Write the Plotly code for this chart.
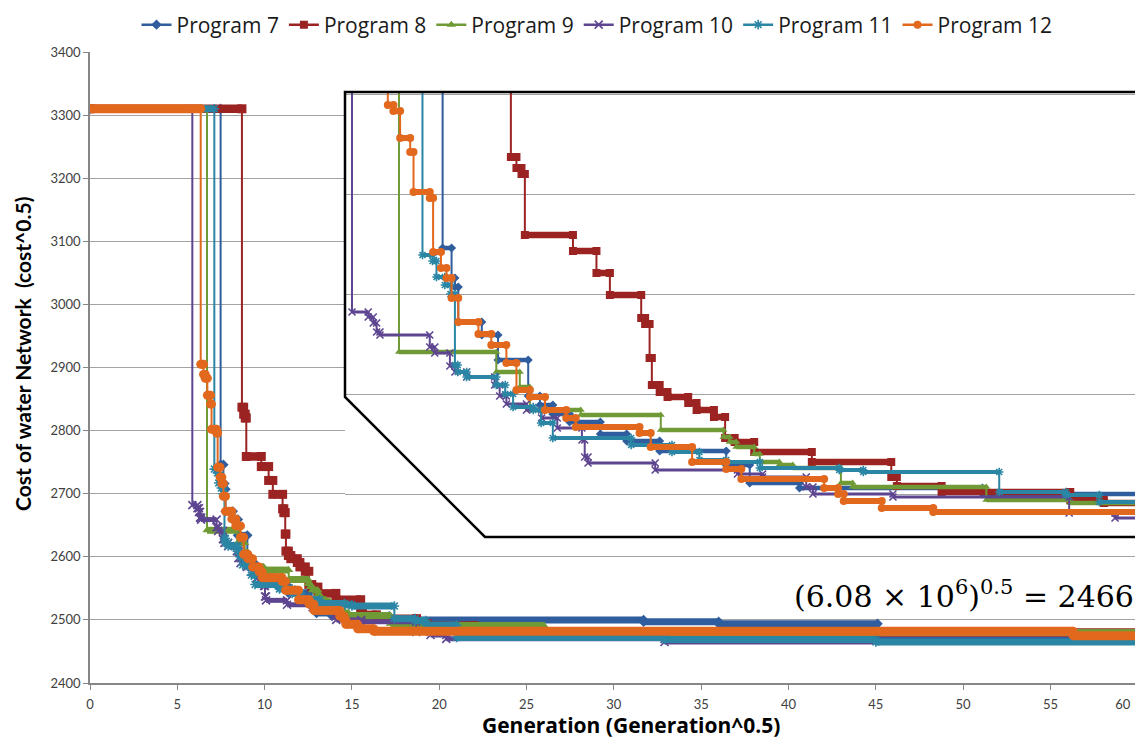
import plotly.graph_objects as go

# ---------------- data ----------------
NAMES = ["Program 7", "Program 8", "Program 9", "Program 10", "Program 11", "Program 12"]

# step start points (x = generation^0.5, y = cost^0.5)
X7 = [0, 7.48, 7.64, 7.70, 7.76, 8.18, 8.47, 9.01, 9.22, 9.45, 9.75, 10.30, 10.77, 11.36,
      12.55, 12.97, 13.86, 17.13, 31.7, 36.0, 45.1]
Y7 = [3310, 2746, 2716, 2707, 2672, 2659, 2634, 2598, 2589, 2580, 2572, 2560, 2553, 2543,
      2529, 2511, 2506, 2500, 2497, 2494, 2468]

X8 = [0, 8.70, 8.80, 8.89, 8.95, 9.81, 10.23, 10.47, 11.03, 11.10, 11.18, 11.22, 11.36, 11.50,
      11.87, 12.02, 12.33, 12.53, 12.70, 13.05, 14.08, 15.50, 15.60, 16.40, 18.70, 19.30, 22.0]
Y8 = [3310, 2837, 2826, 2820, 2759, 2743, 2721, 2699, 2676, 2670, 2636, 2609, 2602, 2597,
      2591, 2584, 2577, 2556, 2552, 2542, 2532, 2517, 2508, 2502, 2494, 2491, 2480]

X9 = [0, 6.70, 8.44, 8.86, 9.04, 9.95, 11.38, 12.50, 12.61, 12.73, 13.05, 13.15, 13.50, 13.74,
      14.60, 14.81, 17.20, 18.70, 26.0]
Y9 = [3310, 2642, 2622, 2607, 2584, 2579, 2564, 2557, 2552, 2547, 2540, 2532, 2529, 2526,
      2511, 2507, 2494, 2491, 2480]

X10 = [0, 5.86, 6.15, 6.24, 6.30, 6.36, 7.25, 7.34, 7.61, 7.70, 7.91, 8.41, 8.50, 8.62, 8.98,
       9.25, 9.53, 9.97, 10.02, 10.08, 11.28, 12.75, 13.20, 13.98, 14.10, 15.53, 18.68, 19.50,
       20.40, 32.9]
Y10 = [3310, 2682, 2677, 2671, 2662, 2659, 2647, 2641, 2628, 2622, 2617, 2609, 2598, 2590, 2584,
       2576, 2566, 2554, 2537, 2531, 2524, 2520, 2517, 2507, 2500, 2497, 2481, 2476,
       2470, 2465]

X11 = [0, 7.12, 7.30, 7.37, 7.52, 7.62, 7.70, 7.75, 7.91, 8.44, 8.60, 8.74, 9.10, 9.24, 9.45,
       10.85, 11.58, 12.07, 12.55, 13.15, 14.57, 15.0, 17.43, 18.62, 19.22, 21.0, 32.9, 45.0]
Y11 = [3310, 2739, 2733, 2717, 2709, 2700, 2629, 2622, 2617, 2609, 2600, 2587, 2584, 2571, 2556,
       2549, 2542, 2534, 2532, 2526, 2524, 2522, 2502, 2499, 2492, 2472, 2469, 2465]

X12 = [0, 6.34, 6.50, 6.60, 6.72, 6.90, 6.96, 7.25, 7.31, 7.45, 7.55, 7.64, 7.76, 8.12, 8.35,
       8.62, 8.80, 9.04, 9.31, 9.69, 9.86, 11.0, 11.2, 11.94, 12.55, 12.82, 14.30, 14.55, 14.65,
       15.33, 16.25, 56.3]
Y12 = [3310, 2905, 2889, 2883, 2856, 2842, 2802, 2796, 2742, 2726, 2716, 2696, 2672, 2660, 2649,
       2631, 2604, 2597, 2584, 2576, 2567, 2561, 2547, 2532, 2525, 2515, 2506, 2500, 2493,
       2486, 2482, 2475]

XS = [X7, X8, X9, X10, X11, X12]
YS = [Y7, Y8, Y9, Y10, Y11, Y12]

X_TICK_VALUES = [0, 5, 10, 15, 20, 25, 30, 35, 40, 45, 50, 55, 60]
X_TICK_LABELS = ["0", "5", "10", "15", "20", "25", "30", "35", "40", "45", "50", "55",
                 "60" + "\u00a0" * 9]
Y_TICK_STEP = 100
GRID_VALUES = [2500, 2600, 2700, 2800, 2900, 3000, 3100, 3200, 3300]
ANNOT_TEXT = "(6.08 × 10<sup>6</sup>)<sup>0.5</sup> = 2466"
X_TITLE = "Generation (Generation^0.5)"
Y_TITLE = "Cost of water Network  (cost^0.5)"

# ---------------- styles / layout ----------------
COLORS = ["#2F5D9E", "#9B2423", "#6F9A35", "#5E4590", "#2A86A4", "#E2681E"]
SYMBOLS = ["diamond", "square", "triangle-up", "x-thin", "asterisk", "circle"]
BAND_MAIN = [7, 8.5, 7, 5, 7, 9]
BAND_INSET = [4.5, 6.5, 4.5, 3, 4, 6]
MS_MAIN = [8, 9, 8, 8, 8, 9]
MS_INSET = [7, 8, 7, 7, 7, 8]
LINE_ONLY = {"x-thin", "asterisk"}

OFF = 8                      # page offset of the figure inside the browser window
REF_W, REF_H = 1143, 740
W, H = REF_W - OFF, REF_H - OFF
REF_LEFT, REF_TOP, REF_BOTTOM = 90, 52, 683      # plot area in window pixels
ML, MR, MT = REF_LEFT - OFF, 0, REF_TOP - OFF
MB = H - (REF_BOTTOM - OFF)
PW, PH = W - ML - MR, H - MT - MB


def px_x(ref_x):
    return (ref_x - REF_LEFT) / PW


def px_y(ref_y):
    return (REF_BOTTOM - ref_y) / PH


X_RANGE = [0, 60.3]
Y_RANGE = [2400, 3400]
X2_RANGE = [5.735, 20.0]
Y2_RANGE = [2457, 2902]
END_X = 62

INSET_DX = [px_x(345), 1.0]
INSET_DY = [px_y(537), px_y(92)]
CUT_FX = 140 / 798
CUT_FY = 140 / 445

GRID = "#A3A3A3"
AXIS = "#868686"
FONT = "Lato"
WFONT = "Open Sans"

fig = go.Figure()


def add_series(X, Y, k, xa, ya, bw, ms):
    color = COLORS[k]
    sym = SYMBOLS[k]
    lx = list(X) + [END_X]
    ly = list(Y) + [Y[-1]]
    fig.add_trace(go.Scatter(x=lx, y=ly, mode="lines", xaxis=xa, yaxis=ya,
                             line=dict(color=color, width=2, shape="hv"),
                             showlegend=False, hoverinfo="skip"))
    bx, by = [], []
    for i in range(len(X)):
        bx += [lx[i], lx[i + 1], None]
        by += [Y[i], Y[i], None]
    fig.add_trace(go.Scatter(
        x=bx, y=by, mode="lines+markers", xaxis=xa, yaxis=ya,
        line=dict(color=color, width=bw),
        marker=dict(symbol=sym, size=ms, color=color,
                    line=dict(color=color, width=1.6 if sym in LINE_ONLY else 0)),
        showlegend=False, hoverinfo="skip"))


for k in range(6):
    add_series(XS[k], YS[k], k, "x", "y", BAND_MAIN[k], MS_MAIN[k])
for k in range(6):
    add_series(XS[k], YS[k], k, "x2", "y2", BAND_INSET[k], MS_INSET[k])

# legend entries (placed on the grid-only overlay axis)
for k in range(6):
    sym = SYMBOLS[k]
    fig.add_trace(go.Scatter(
        x=[None], y=[None], name=NAMES[k], mode="lines+markers", xaxis="x", yaxis="y3",
        line=dict(color=COLORS[k], width=2.5),
        marker=dict(symbol=sym, size=8, color=COLORS[k],
                    line=dict(color=COLORS[k], width=1.6 if sym in LINE_ONLY else 0)),
        showlegend=True))

# inset frame
x0, x1 = X2_RANGE
y0, y1 = Y2_RANGE
cx = x0 + CUT_FX * (x1 - x0)
cy = y0 + CUT_FY * (y1 - y0)
px0, px1 = INSET_DX
py0, py1 = INSET_DY
pcx = px0 + CUT_FX * (px1 - px0)
pcy = py0 + CUT_FY * (py1 - py0)

shapes = [
    dict(type="path", xref="x2", yref="y2", layer="below",
         path=f"M {x0},{y1} L {x1},{y1} L {x1},{y0} L {cx},{y0} L {x0},{cy} Z",
         fillcolor="white", line=dict(width=0)),
    dict(type="path", xref="paper", yref="paper", layer="above",
         path=f"M {px1 + 0.01},{py1} L {px0},{py1} L {px0},{pcy} L {pcx},{py0} L {px1 + 0.01},{py0}",
         line=dict(color="black", width=2.5)),
]

annotations = [
    dict(text=ANNOT_TEXT, xref="paper", yref="paper", x=px_x(1136), y=px_y(594),
         xanchor="right", yanchor="middle", showarrow=False,
         font=dict(family="DejaVu Serif", size=30, color="black")),
    dict(text=X_TITLE, xref="paper", yref="paper", x=px_x(631), y=px_y(725),
         xanchor="center", yanchor="middle", showarrow=False,
         font=dict(family=WFONT, size=21, color="black", weight="bold")),
    dict(text=Y_TITLE, xref="paper", yref="paper", x=px_x(22), y=px_y(354),
         xanchor="center", yanchor="middle", showarrow=False, textangle=-90,
         font=dict(family=FONT, size=21, color="black", weight="bold")),
]

fig.update_layout(
    width=W, height=H, margin=dict(l=ML, r=MR, t=MT, b=MB, autoexpand=False),
    paper_bgcolor="white", plot_bgcolor="white",
    font=dict(family=FONT, color="#262626"),
    legend=dict(orientation="h", x=px_x(597), xanchor="center",
                y=px_y(25), yanchor="middle",
                font=dict(family=WFONT, size=21, color="#1a1a1a"),
                bgcolor="rgba(0,0,0,0)", itemwidth=30, traceorder="normal"),
    xaxis=dict(range=X_RANGE, domain=[0, 1], anchor="y", tickmode="array",
               tickvals=X_TICK_VALUES, ticktext=X_TICK_LABELS,
               showgrid=False, zeroline=False, showline=True, linecolor=AXIS, linewidth=1.5,
               ticks="outside", ticklen=5, tickcolor=AXIS, ticklabelstandoff=4,
               ticklabeloverflow="allow",
               tickfont=dict(family=FONT, size=13, color="#404040")),
    yaxis=dict(range=Y_RANGE, domain=[0, 1], anchor="x", tick0=2400, dtick=Y_TICK_STEP,
               showgrid=False, zeroline=False,
               showline=True, linecolor=AXIS, linewidth=1.5,
               ticks="outside", ticklen=5, tickcolor=AXIS,
               tickfont=dict(family=FONT, size=13, color="#404040")),
    yaxis3=dict(range=Y_RANGE, overlaying="y", anchor="x", tickmode="array",
                tickvals=GRID_VALUES, showgrid=True, gridcolor=GRID, gridwidth=1.3,
                zeroline=False, showline=False, showticklabels=False, ticks=""),
    xaxis2=dict(range=X2_RANGE, domain=INSET_DX, anchor="y2", showgrid=False, zeroline=False,
                showline=False, showticklabels=False, ticks=""),
    yaxis2=dict(range=Y2_RANGE, domain=INSET_DY, anchor="x2", tick0=2400, dtick=Y_TICK_STEP,
                showgrid=True, gridcolor=GRID, gridwidth=1.3, zeroline=False,
                showline=False, showticklabels=False, ticks=""),
    shapes=shapes, annotations=annotations, hovermode=False,
)

fig.write_html("out.html")
